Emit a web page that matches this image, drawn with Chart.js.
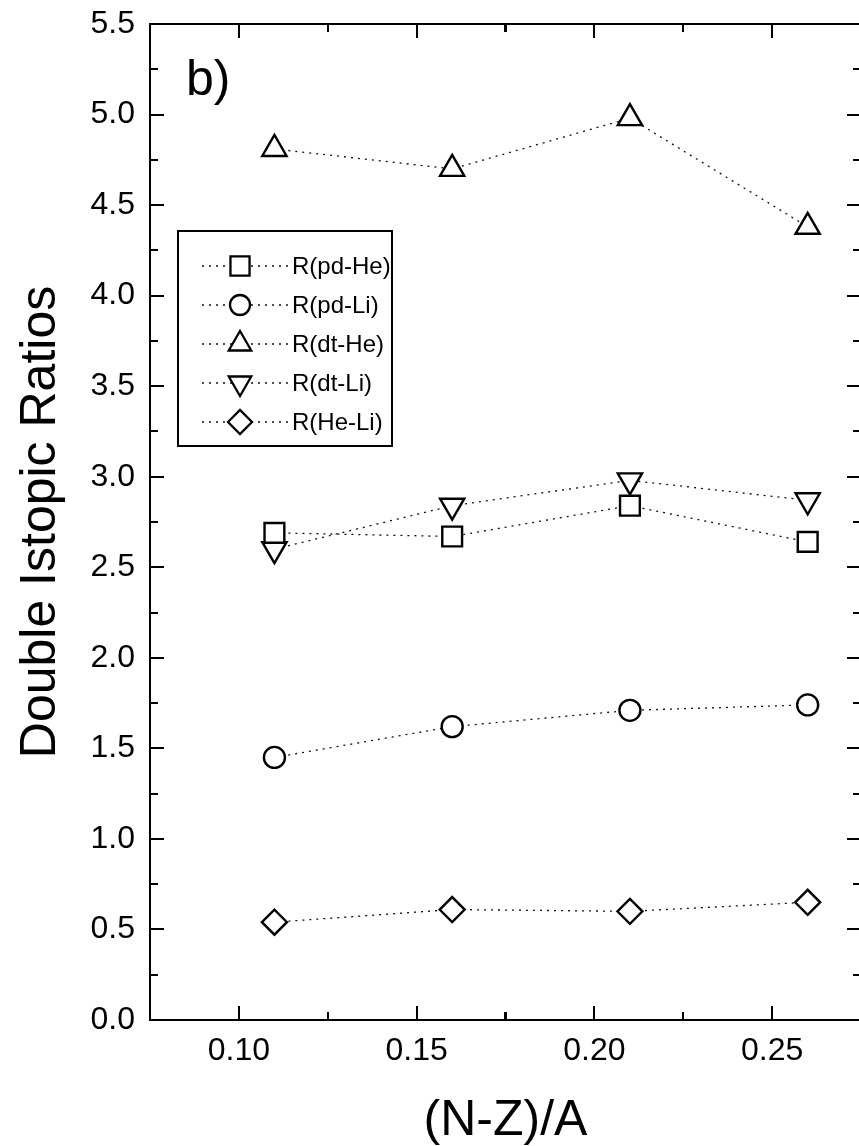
<!DOCTYPE html>
<html><head><meta charset="utf-8">
<script src="https://cdn.jsdelivr.net/npm/chart.js@4.4.1/dist/chart.umd.min.js"></script>
<style>
html,body{margin:0;padding:0;background:#fff;overflow:hidden;width:859px;height:1146px}
#wrap{position:absolute;left:0;top:0;width:880px;height:1146px}
</style>
</head><body><div id="wrap"><canvas id="c" width="880" height="1146"></canvas></div>
<script>
// ---- data ----
const categories = [0.11, 0.16, 0.21, 0.26];
const pdHe = [2.69, 2.67, 2.84, 2.64];
const pdLi = [1.45, 1.62, 1.71, 1.74];
const dtHe = [4.81, 4.70, 4.98, 4.38];
const dtLi = [2.60, 2.84, 2.98, 2.87];
const heLi = [0.54, 0.61, 0.60, 0.65];
const seriesNames = ['R(pd-He)', 'R(pd-Li)', 'R(dt-He)', 'R(dt-Li)', 'R(He-Li)'];
const xTickValues = [0.10, 0.15, 0.20, 0.25];
const yTickValues = [0.0, 0.5, 1.0, 1.5, 2.0, 2.5, 3.0, 3.5, 4.0, 4.5, 5.0, 5.5];
const panelLabel = 'b)';
const xTitle = '(N-Z)/A';
const yTitle = 'Double Istopic Ratios';

const FONT = "'Liberation Sans', Arial, Helvetica, sans-serif";
const canvas = document.getElementById('c');

const styles = [
  {pointStyle: 'rect', pointRadius: 14, rotation: 0, legendRadius: 13.5},
  {pointStyle: 'circle', pointRadius: 10.5, rotation: 0, legendRadius: 10},
  {pointStyle: 'triangle', pointRadius: 14, rotation: 0, legendRadius: 13},
  {pointStyle: 'triangle', pointRadius: 14, rotation: 180, legendRadius: 13},
  {pointStyle: 'rectRot', pointRadius: 12.5, rotation: 0, legendRadius: 12}
];
const series = [pdHe, pdLi, dtHe, dtLi, heLi];

const datasets = series.map((vals, i) => ({
  label: seriesNames[i],
  data: categories.map((x, j) => ({x: x, y: vals[j]})),
  showLine: true,
  borderColor: '#111',
  borderWidth: 1.3,
  borderDash: [2, 5],
  pointStyle: styles[i].pointStyle,
  pointRadius: styles[i].pointRadius,
  pointRotation: styles[i].rotation,
  pointBorderColor: '#000',
  pointBackgroundColor: '#fff',
  pointBorderWidth: 2.4,
  tension: 0,
  fill: false
}));

const framePlugin = {
  id: 'frame',
  afterDraw(chart) {
    const {ctx, chartArea: a, scales: {x, y}} = chart;
    ctx.save();
    ctx.strokeStyle = '#000';
    ctx.lineWidth = 2;
    ctx.strokeRect(a.left, a.top, a.right - a.left, a.bottom - a.top);
    const MAJ = 14, MIN = 8;
    ctx.beginPath();
    xTickValues.forEach(v => {
      [[v, MAJ], [v + 0.025, MIN], [v - 0.025, MIN]].forEach(([t, L]) => {
        if (t < x.min - 1e-9 || t > x.max + 1e-9) return;
        const px = Math.round(x.getPixelForValue(t));
        ctx.moveTo(px, a.bottom); ctx.lineTo(px, a.bottom - L);
        ctx.moveTo(px, a.top); ctx.lineTo(px, a.top + L);
      });
    });
    yTickValues.forEach(v => {
      [[v, MAJ], [v + 0.25, MIN]].forEach(([t, L]) => {
        if (t < y.min - 1e-9 || t > y.max + 1e-9) return;
        const py = Math.round(y.getPixelForValue(t));
        ctx.moveTo(a.left, py); ctx.lineTo(a.left + L, py);
        ctx.moveTo(a.right, py); ctx.lineTo(a.right - L, py);
      });
    });
    ctx.stroke();
    ctx.fillStyle = '#000';
    ctx.font = '50px ' + FONT;
    ctx.textAlign = 'left';
    ctx.textBaseline = 'alphabetic';
    ctx.fillText(panelLabel, 186, 95);
    ctx.restore();
  }
};

const legendPlugin = {
  id: 'boxLegend',
  afterDraw(chart) {
    const ctx = chart.ctx;
    const box = {l: 178, t: 231, r: 392, b: 446};
    ctx.save();
    ctx.fillStyle = '#fff';
    ctx.fillRect(box.l, box.t, box.r - box.l, box.b - box.t);
    ctx.strokeStyle = '#000';
    ctx.lineWidth = 2;
    ctx.strokeRect(box.l, box.t, box.r - box.l, box.b - box.t);
    chart.data.datasets.forEach((ds, i) => {
      const yy = 266 + i * 39;
      ctx.save();
      ctx.strokeStyle = '#111';
      ctx.lineWidth = 1.3;
      ctx.setLineDash([2, 5]);
      ctx.beginPath();
      ctx.moveTo(202, yy); ctx.lineTo(288, yy);
      ctx.stroke();
      ctx.restore();
      ctx.save();
      ctx.strokeStyle = '#000';
      ctx.fillStyle = '#fff';
      ctx.lineWidth = 2.3;
      Chart.helpers.drawPoint(ctx, {
        pointStyle: ds.pointStyle, rotation: ds.pointRotation,
        radius: styles[i].legendRadius, borderWidth: 2.3
      }, 240, yy);
      ctx.restore();
      ctx.fillStyle = '#000';
      ctx.font = '24px ' + FONT;
      ctx.textAlign = 'left';
      ctx.textBaseline = 'middle';
      ctx.fillText(ds.label, 292, yy + 1);
    });
    ctx.restore();
  }
};

new Chart(canvas, {
  type: 'line',
  data: {datasets},
  options: {
    responsive: false,
    animation: false,
    devicePixelRatio: 1,
    layout: {padding: {top: 24, right: 19, left: 0, bottom: 0}},
    plugins: {legend: {display: false}, tooltip: {enabled: false}},
    scales: {
      x: {
        type: 'linear', min: 0.075, max: 0.275,
        afterBuildTicks: s => { s.ticks = xTickValues.map(v => ({value: v})); },
        afterFit: s => { s.height = 126; s.paddingLeft = 0; s.paddingRight = 0; },
        grid: {display: false, drawTicks: false},
        border: {display: false},
        ticks: {font: {family: FONT, size: 32}, color: '#000', padding: 12,
                autoSkip: false, maxRotation: 0, callback: v => Number(v).toFixed(2)},
        title: {display: true, text: xTitle, color: '#000',
                font: {family: FONT, size: 50, lineHeight: 1}, padding: {top: 0, bottom: 0}}
      },
      y: {
        type: 'linear', min: 0, max: 5.5,
        afterBuildTicks: s => { s.ticks = yTickValues.map(v => ({value: v})); },
        afterFit: s => { s.width = 150; s.paddingTop = 0; s.paddingBottom = 0; },
        grid: {display: false, drawTicks: false},
        border: {display: false},
        ticks: {font: {family: FONT, size: 32}, color: '#000', padding: 15,
                autoSkip: false, callback: v => Number(v).toFixed(1)},
        title: {display: true, text: yTitle, color: '#000',
                font: {family: FONT, size: 50, lineHeight: 1}, padding: {top: 16, bottom: 0}}
      }
    }
  },
  plugins: [framePlugin, legendPlugin]
});
</script>
</body></html>
